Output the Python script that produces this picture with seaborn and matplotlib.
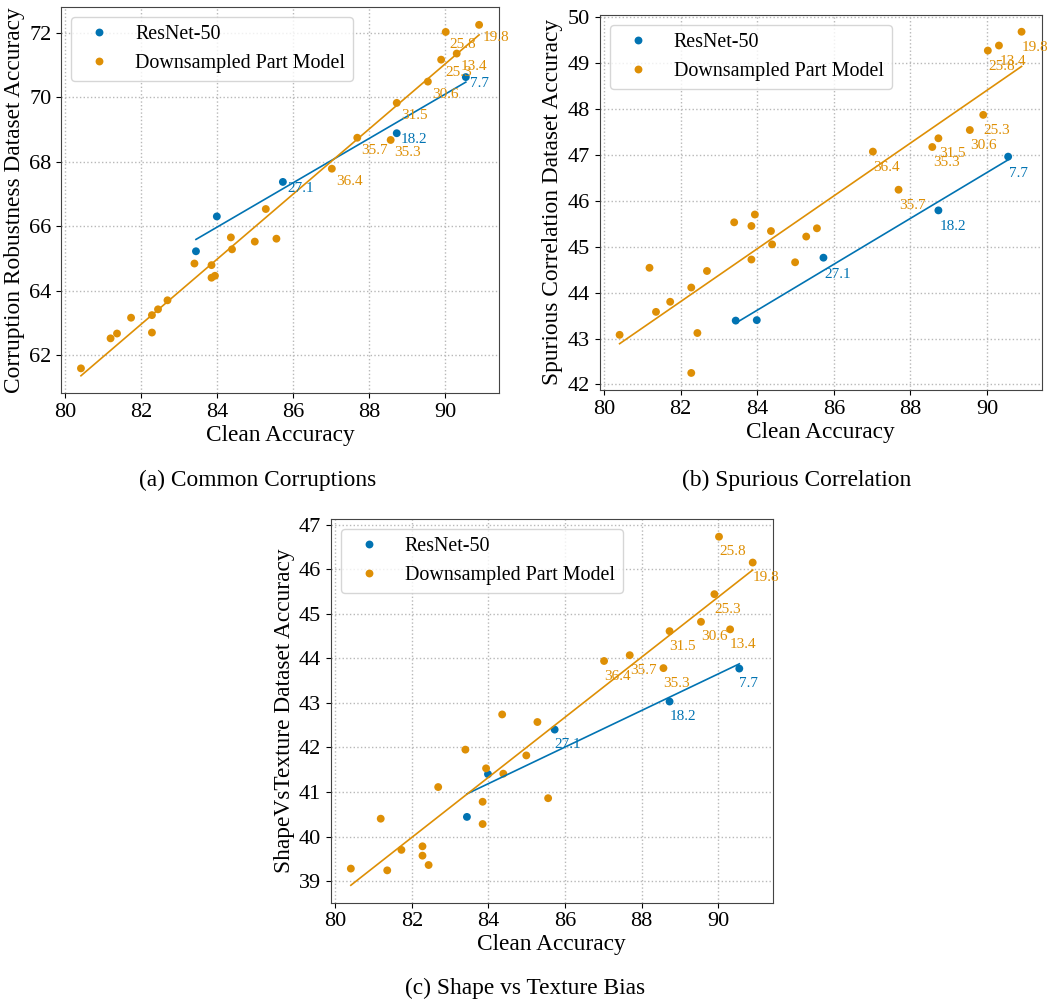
import pandas as pd
import matplotlib.pyplot as plt
from matplotlib.ticker import MultipleLocator
import seaborn as sns

# clean accuracy (x) shared by all three panels
resnet_clean = [83.44, 83.99, 85.73, 88.73, 90.55]
part_clean = [80.41, 81.19, 81.36, 81.73, 82.28, 82.28, 82.44, 82.69, 83.40,
              83.85, 83.85, 83.94, 84.36, 84.39, 84.99, 85.28, 85.56, 87.02,
              87.69, 88.57, 88.73, 89.55, 89.90, 90.02, 90.31, 90.90]

# point annotations (None = no label)
resnet_labels = [None, None, '27.1', '18.2', '7.7']
part_labels = [None] * 17 + ['36.4', '35.7', '35.3', '31.5', '30.6',
                             '25.3', '25.8', '13.4', '19.8']

# (a) common corruptions
resnet_corr = [65.22, 66.30, 67.37, 68.88, 70.62]
part_corr = [61.59, 62.52, 62.67, 63.16, 63.24, 62.70, 63.42, 63.70, 64.84,
             64.79, 64.40, 64.46, 65.65, 65.28, 65.52, 66.53, 65.61, 67.78,
             68.74, 68.67, 69.82, 70.48, 71.16, 72.02, 71.35, 72.24]

# (b) spurious correlation
resnet_spur = [43.39, 43.40, 44.76, 45.79, 46.96]
part_spur = [43.08, 44.54, 43.58, 43.80, 44.11, 42.25, 43.12, 44.47, 45.53,
             45.45, 44.72, 45.70, 45.34, 45.05, 44.66, 45.22, 45.40, 47.07,
             46.24, 47.17, 47.36, 47.54, 47.87, 49.27, 49.38, 49.68]

# (c) shape vs texture
resnet_shape = [40.44, 41.40, 42.40, 43.03, 43.77]
part_shape = [39.28, 40.40, 39.24, 39.70, 39.78, 39.57, 39.36, 41.11, 41.95,
              40.78, 40.28, 41.53, 42.74, 41.41, 41.82, 42.57, 40.86, 43.94,
              44.07, 43.78, 44.61, 44.82, 45.44, 46.73, 44.65, 46.15]

MODELS = ['ResNet-50', 'Downsampled Part Model']

plt.rcParams['font.family'] = ['Liberation Serif', 'DejaVu Serif']
plt.rcParams['mathtext.fontset'] = 'stix'

colors = sns.color_palette('colorblind')[:2]


def make_df(resnet_y, part_y):
    df_r = pd.DataFrame({'clean': resnet_clean, 'robust': resnet_y,
                         'model': MODELS[0], 'label': resnet_labels})
    df_p = pd.DataFrame({'clean': part_clean, 'robust': part_y,
                         'model': MODELS[1], 'label': part_labels})
    return pd.concat([df_r, df_p], ignore_index=True)


def draw_panel(ax, df, ylabel, offsets, ystep):
    ax.set_axisbelow(True)
    ax.grid(True, linestyle=':', color='#b8b8b8', linewidth=1.0)
    sns.scatterplot(data=df, x='clean', y='robust', hue='model',
                    hue_order=MODELS, palette=colors, s=32, linewidth=0, ax=ax)
    for model, col in zip(MODELS, colors):
        sub = df[df['model'] == model]
        sns.regplot(data=sub, x='clean', y='robust', scatter=False, ci=None,
                    color=col, line_kws={'linewidth': 1.2}, ax=ax)
        # value labels next to points
        dx, dy = offsets[model]
        for _, r in sub.dropna(subset=['label']).iterrows():
            ax.annotate(r['label'], (r['clean'], r['robust']),
                        xytext=(dx, dy), textcoords='offset pixels',
                        color=col, fontsize=11, ha='left', va='baseline',
                        annotation_clip=False)
    handles, labels = ax.get_legend_handles_labels()
    ax.legend(handles, labels, loc='upper left', fontsize=14.4)
    ax.xaxis.set_major_locator(MultipleLocator(2))
    ax.yaxis.set_major_locator(MultipleLocator(ystep))
    ax.set_xlabel('Clean Accuracy', fontsize=16.8, labelpad=2)
    ax.set_ylabel(ylabel, fontsize=16.8, labelpad=3)
    ax.tick_params(labelsize=16)
    for sp in ax.spines.values():
        sp.set_color('#444444')


fig = plt.figure(figsize=(10.49, 9.99), dpi=100)

ax1 = fig.add_axes([0.0582, 0.6063, 0.4175, 0.3864])
draw_panel(ax1, make_df(resnet_corr, part_corr),
           'Corruption Robustness Dataset Accuracy',
           {MODELS[0]: (4, -10), MODELS[1]: (4, -16.5)}, 2)

ax2 = fig.add_axes([0.5715, 0.6096, 0.4215, 0.3757])
draw_panel(ax2, make_df(resnet_spur, part_spur),
           'Spurious Correlation Dataset Accuracy',
           {MODELS[0]: (1, -20), MODELS[1]: (0.5, -19)}, 1)

ax3 = fig.add_axes([0.3153, 0.0964, 0.4214, 0.3838])
draw_panel(ax3, make_df(resnet_shape, part_shape),
           'ShapeVsTexture Dataset Accuracy',
           {MODELS[0]: (0, -18.7), MODELS[1]: (0, -18.7)}, 1)

# sub-figure captions
fig.text(257.5 / 1049, 1 - 480 / 999, '(a) Common Corruptions',
         ha='center', va='center', fontsize=16.8)
fig.text(797 / 1049, 1 - 480 / 999, '(b) Spurious Correlation',
         ha='center', va='center', fontsize=16.8)
fig.text(525 / 1049, 1 - 988 / 999, '(c) Shape vs Texture Bias',
         ha='center', va='center', fontsize=16.8)

fig.savefig('out.png', dpi=100)
